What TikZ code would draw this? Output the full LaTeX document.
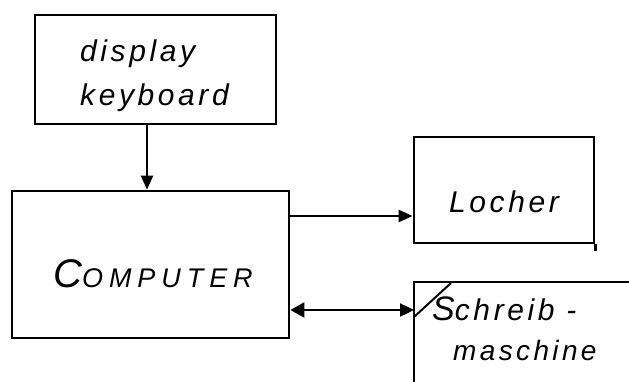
\documentclass[tikz,border=0pt]{standalone}
\usepackage{fontspec}
\usetikzlibrary{arrows.meta}
\setmainfont{Liberation Sans}
\newfontfamily\hand[LetterSpace=12]{Liberation Sans}
\newfontfamily\handwide[LetterSpace=22]{Liberation Sans}
\begin{document}
\begin{tikzpicture}[x=1pt,y=-1pt,
  box/.style={draw, line width=2.8pt, rectangle, inner sep=0pt},
  lbl/.style={font=\hand\itshape\fontsize{30}{30}\selectfont, inner sep=0pt, anchor=base west},
  frame/.style={line width=2.8pt},
  arr/.style={line width=2.4pt, -{Triangle[length=14pt,width=12pt]}},
  darr/.style={line width=2.4pt, {Triangle[length=14pt,width=15pt]}-{Triangle[length=14pt,width=13pt]}}]
\useasboundingbox (0,0) rectangle (629,382);
% boxes
\node[box, minimum width=241pt, minimum height=109pt] (disp) at (155.5,69.5) {};
\node[box, minimum width=277pt, minimum height=147pt] (comp) at (150.5,264.5) {};
\node[box, minimum width=180pt, minimum height=106pt] (loch) at (504,190) {};
\draw[frame] (loch.south east) -- ++(0,7);
% open frame of Schreibmaschine
\coordinate (sw) at (414,282);
\coordinate (se) at (629,282);
\coordinate (sb) at (414,382);
\draw[frame] (se) -- (sw) -- (sb);
\coordinate (d1) at (414,317);
\coordinate (d2) at (451,283);
\draw[line width=2pt] (d1) -- (d2);
% texts
\node[lbl] (t1) at (80,62) {display};
\node[lbl] (t2) at (80,106) {keyboard};
\node[lbl] (t3) at (53,287) {{\fontsize{40}{40}\selectfont C}{\handwide\itshape\fontsize{27}{27}\selectfont OMPUTER}};
\node[lbl] (t4) at (449,212) {Locher};
\node[lbl] (t5) at (432,320) {{\fontsize{34}{34}\selectfont S}chreib -};
\node[lbl, font=\hand\itshape\fontsize{28}{28}\selectfont] (t6) at (453,360) {maschine};
% connectors
\coordinate (ax) at (147,0);
\coordinate (ay1) at (0,216);
\coordinate (ay2) at (0,310);
\draw[arr] (disp.south -| ax) -- (comp.north -| ax);
\draw[arr] (comp.east |- ay1) -- (loch.west |- ay1);
\draw[darr] (comp.east |- ay2) -- (sw |- ay2);
\end{tikzpicture}
\end{document}
